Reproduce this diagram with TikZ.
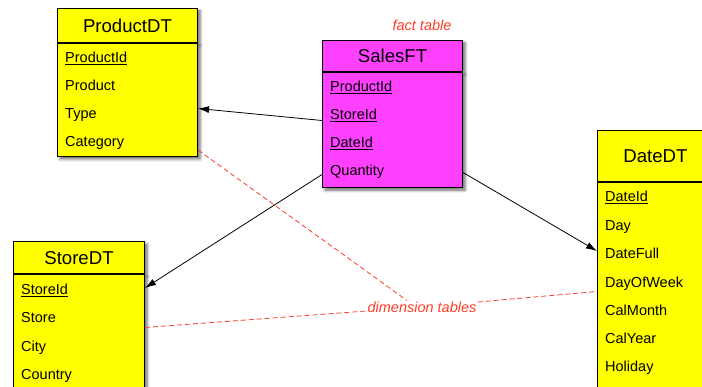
\documentclass[tikz,border=0pt]{standalone}
\usepackage{fontspec}
\setmainfont{Liberation Sans}
\usetikzlibrary{arrows.meta,shadows.blur}

\definecolor{dimyellow}{RGB}{255,255,0}
\definecolor{factpink}{RGB}{255,64,255}
\definecolor{notered}{RGB}{255,60,40}

\begin{document}
\begin{tikzpicture}[x=1pt,y=-1pt,
  tabbox/.style={draw=black, line width=1pt, inner sep=0pt, anchor=north west,
    blur shadow={shadow xshift=2.5pt, shadow yshift=-2.5pt,
      shadow blur radius=3pt, shadow opacity=60}},
  tabhead/.style={tabbox, font=\fontsize{18.6}{22}\selectfont,
    text height=13.3pt, text depth=0pt},
  rowtext/.style={anchor=west, inner sep=0pt, font=\fontsize{14.5}{17}\selectfont,
    text height=10.4pt, text depth=0pt},
  notelabel/.style={text=notered, inner sep=1pt,
    font=\fontsize{14.5}{17}\selectfont\itshape},
  conn/.style={-{Latex[length=11pt,width=7pt]}, line width=0.8pt},
  dimline/.style={draw=notered, line width=0.8pt, dash pattern=on 5pt off 3pt}
]
\path[use as bounding box] (0,0) rectangle (702,387);
\clip (0,0) rectangle (702,387);

% ProductDT dimension table
\node[tabhead, fill=dimyellow, minimum width=140pt, minimum height=34pt] (ph) at (57,8) {ProductDT};
\node[tabbox, fill=dimyellow, minimum width=140pt, minimum height=113pt] (pb) at (ph.south west) {};
\node[rowtext] (p1) at (65,57)  {\underline{ProductId}};
\node[rowtext] (p2) at (65,85)  {Product};
\node[rowtext] (p3) at (65,113) {Type};
\node[rowtext] (p4) at (65,141) {Category};

% SalesFT fact table
\node[tabhead, fill=factpink, minimum width=140pt, minimum height=31pt] (sh) at (322,40) {SalesFT};
\node[tabbox, fill=factpink, minimum width=140pt, minimum height=115pt] (sb) at (sh.south west) {};
\node[rowtext] (s1) at (330,86)  {\underline{ProductId}};
\node[rowtext] (s2) at (330,114) {\underline{StoreId}};
\node[rowtext] (s3) at (330,142) {\underline{DateId}};
\node[rowtext] (s4) at (330,170) {Quantity};

% StoreDT dimension table
\node[tabhead, fill=dimyellow, minimum width=131pt, minimum height=32pt] (th) at (13,241) {StoreDT};
\node[tabbox, fill=dimyellow, minimum width=131pt, minimum height=130pt] (tb) at (th.south west) {};
\node[rowtext] (t1) at (21,289) {\underline{StoreId}};
\node[rowtext] (t2) at (21,317) {Store};
\node[rowtext] (t3) at (21,346) {City};
\node[rowtext] (t4) at (21,374) {Country};

% DateDT dimension table
\node[tabhead, fill=dimyellow, minimum width=116pt, minimum height=51pt] (dh) at (597,130) {DateDT};
\node[tabbox, fill=dimyellow, minimum width=116pt, minimum height=220pt] (db) at (dh.south west) {};
\node[rowtext] (d1) at (605,196) {\underline{DateId}};
\node[rowtext] (d2) at (605,225) {Day};
\node[rowtext] (d3) at (605,253) {DateFull};
\node[rowtext] (d4) at (605,282) {DayOfWeek};
\node[rowtext] (d5) at (605,310) {CalMonth};
\node[rowtext] (d6) at (605,338) {CalYear};
\node[rowtext] (d7) at (605,366) {Holiday};

% foreign key references
\draw[conn] ([yshift=9.5pt]sb.west) -- ([yshift=-8.5pt]pb.east);
\draw[conn] ([yshift=-44.5pt]sb.west) -- ([yshift=-14pt]th.south east);
\draw[conn] ([yshift=-42.5pt]sb.east) -- ([yshift=-69pt]dh.south west);

% annotations
\node[notelabel] (fact) at (422,25) {fact table};
\node[notelabel] (dim) at (422,307) {dimension tables};
\draw[dimline] ([yshift=7pt]pb.south east) -- ([xshift=-15pt]dim.north);
\draw[dimline] ([yshift=12pt]tb.east) -- ([yshift=-4pt]dim.west);
\draw[dimline] ([yshift=5pt]dim.east) -- ([yshift=1pt]db.west);
\end{tikzpicture}
\end{document}
